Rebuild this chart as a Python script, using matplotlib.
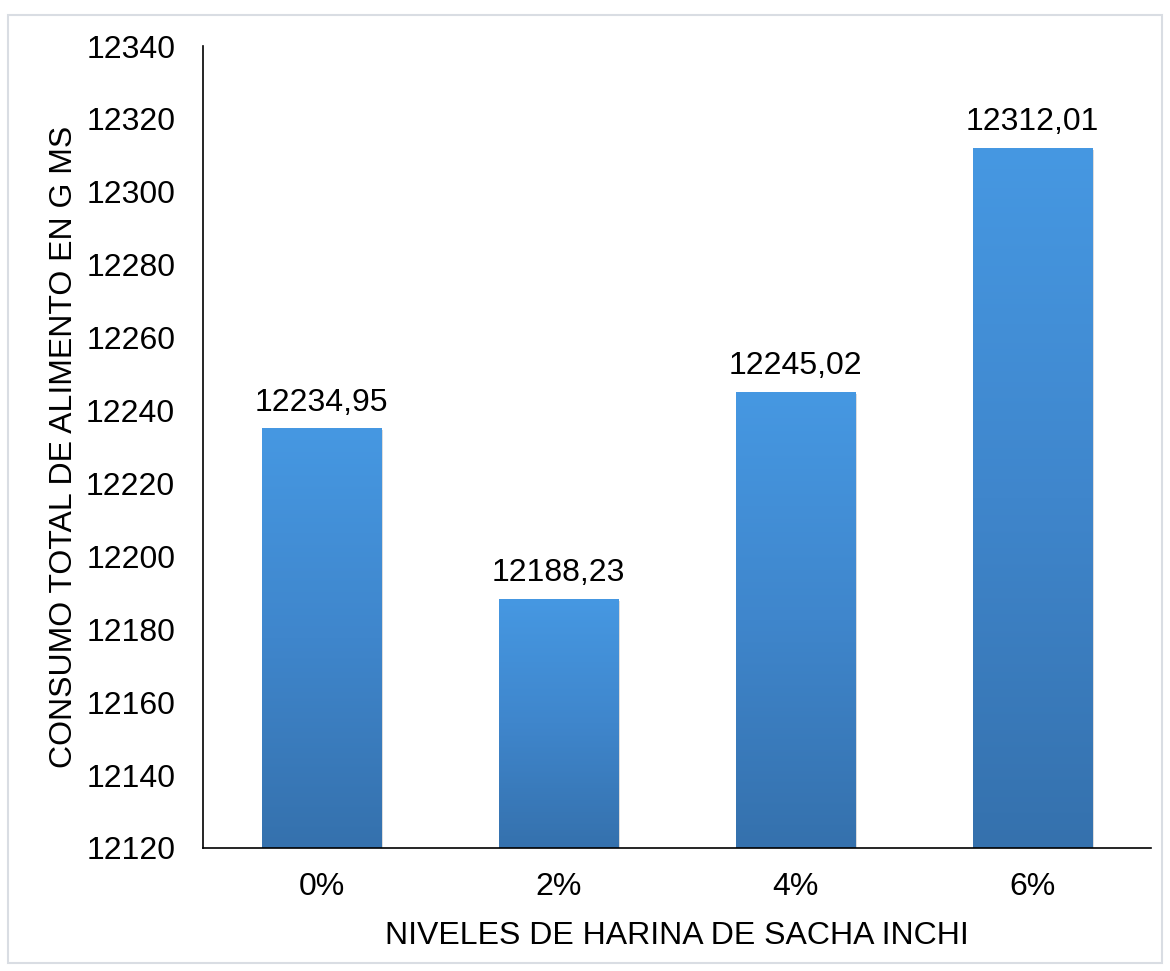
import numpy as np
import matplotlib.pyplot as plt
from matplotlib.patches import Rectangle
from matplotlib.colors import LinearSegmentedColormap

# Datos del grafico
niveles = ["0%", "2%", "4%", "6%"]
consumo = [12234.95, 12188.23, 12245.02, 12312.01]
etiquetas = ["12234,95", "12188,23", "12245,02", "12312,01"]

plt.rcParams['font.family'] = ['Liberation Sans', 'DejaVu Sans']

fig = plt.figure(figsize=(11.7, 9.71), dpi=100)
ax = fig.add_axes([0.1735, 0.1267, 0.8103, 0.8259])

# borde gris claro del grafico
fig.patches.append(Rectangle((0.007, 0.008), 0.986, 0.977, transform=fig.transFigure,
                             fill=False, edgecolor="#d9dde3", linewidth=1.5))

x = np.arange(len(niveles))
barras = ax.bar(x, [v - 12120 for v in consumo], bottom=12120, width=0.506,
                color="none", edgecolor="none")

# degradado en cada barra (claro arriba, oscuro abajo)
cmap = LinearSegmentedColormap.from_list("grad", ["#3571ad", "#3f86cc", "#4698e2"])
grad = np.linspace(0, 1, 256).reshape(-1, 1)
for i, b in enumerate(barras):
    x0, y0 = b.get_x(), b.get_y()
    w, h = b.get_width(), b.get_height()
    # sombra suave
    ax.add_patch(Rectangle((x0 + 0.008, y0), w, h - 0.4, facecolor="#bbbbbb",
                           edgecolor="none", alpha=0.5, zorder=1))
    ax.imshow(grad, extent=[x0, x0 + w, y0, y0 + h], origin="lower", cmap=cmap,
              aspect="auto", zorder=2, interpolation="bilinear")
    ax.text(x0 + w / 2, y0 + h + 3, etiquetas[i], ha="center", va="bottom", fontsize=23)

ax.set_xlim(-0.5, 3.5)
ax.set_ylim(12120, 12340)
ax.set_yticks(range(12120, 12341, 20))
ax.set_xticks(x)
ax.set_xticklabels(niveles)
ax.tick_params(axis="both", length=0, labelsize=23)
ax.tick_params(axis="y", pad=20)
ax.tick_params(axis="x", pad=17)

for s in ["top", "right"]:
    ax.spines[s].set_visible(False)
ax.spines["left"].set_linewidth(1.2)
ax.spines["bottom"].set_linewidth(1.2)

ax.set_xlabel("NIVELES DE HARINA DE SACHA INCHI", fontsize=23, labelpad=14)
ax.set_ylabel("CONSUMO TOTAL DE ALIMENTO EN G MS", fontsize=23)
ax.yaxis.set_label_coords(-0.131, 0.5)

fig.savefig("out.png", dpi=100)
